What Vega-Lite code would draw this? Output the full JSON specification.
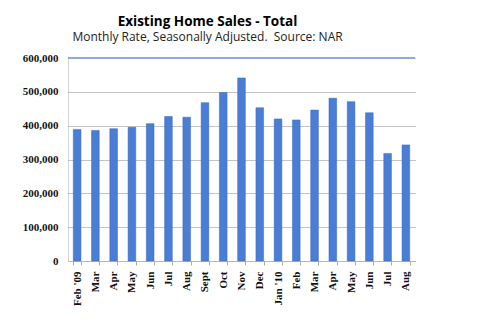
{
  "$schema": "https://vega.github.io/schema/vega-lite/v6.json",
  "width": 347,
  "height": 203,
  "autosize": "none",
  "padding": {"left": 68, "top": 58, "right": 64, "bottom": 66},
  "background": "white",
  "title": {
    "text": "Existing Home Sales - Total",
    "subtitle": "Monthly Rate, Seasonally Adjusted.\u00a0 Source: NAR",
    "font": "Open Sans",
    "fontSize": 13.5,
    "fontWeight": "bold",
    "subtitleFont": "Open Sans",
    "subtitleFontSize": 12,
    "subtitleColor": "#222",
    "color": "#000",
    "anchor": "middle",
    "dx": -34,
    "offset": 9,
    "subtitlePadding": 4
  },
  "data": {
    "values": [
      {"month": "Feb '09", "sales": 389000},
      {"month": "Mar", "sales": 386000},
      {"month": "Apr", "sales": 391000},
      {"month": "May", "sales": 395000},
      {"month": "Jun", "sales": 406000},
      {"month": "Jul", "sales": 427000},
      {"month": "Aug", "sales": 425000},
      {"month": "Sept", "sales": 468000},
      {"month": "Oct", "sales": 498000},
      {"month": "Nov", "sales": 541000},
      {"month": "Dec", "sales": 453000},
      {"month": "Jan '10", "sales": 420000},
      {"month": "Feb ", "sales": 417000},
      {"month": "Mar ", "sales": 446000},
      {"month": "Apr ", "sales": 481000},
      {"month": "May ", "sales": 471000},
      {"month": "Jun ", "sales": 438000},
      {"month": "Jul ", "sales": 318000},
      {"month": "Aug ", "sales": 343000}
    ]
  },
  "config": {
    "view": {"stroke": null},
    "axisY": {
      "values": [0, 100000, 200000, 300000, 400000, 500000, 600000],
      "format": ",d",
      "labelFont": "Liberation Serif",
      "labelFontWeight": "bold",
      "labelFontSize": 11,
      "labelColor": "#111",
      "labelPadding": 10,
      "domain": true,
      "domainColor": "#aaa",
      "domainDash": [1, 1],
      "ticks": false,
      "grid": true,
      "gridColor": "#888",
      "gridDash": [1, 1],
      "gridWidth": 1,
      "title": null
    }
  },
  "layer": [
    {
      "mark": {"type": "bar", "color": "#4a7dd6", "stroke": "#3a68b8", "strokeWidth": 0.5},
      "encoding": {
        "x": {
          "field": "month",
          "type": "nominal",
          "sort": null,
          "scale": {"paddingInner": 0.58, "paddingOuter": 0.29},
          "axis": {
            "title": null,
            "labelAngle": 270,
            "labelAlign": "right",
            "labelBaseline": "middle",
            "labelFont": "Liberation Serif",
            "labelFontWeight": "bold",
            "labelFontSize": 11,
            "labelColor": "#111",
            "labelPadding": 6,
            "domainColor": "#aaa",
            "domainDash": [1, 1],
            "tickColor": "#aaa",
            "tickSize": 4,
            "tickBand": "extent"
          }
        },
        "y": {
          "field": "sales",
          "type": "quantitative",
          "scale": {"domain": [0, 600000]},
          "axis": {"title": null}
        }
      }
    },
    {
      "mark": {"type": "rule", "color": "#8fa8dc", "strokeWidth": 1},
      "encoding": {
        "y": {"datum": 600000, "type": "quantitative", "axis": {"title": null}}
      }
    }
  ]
}
